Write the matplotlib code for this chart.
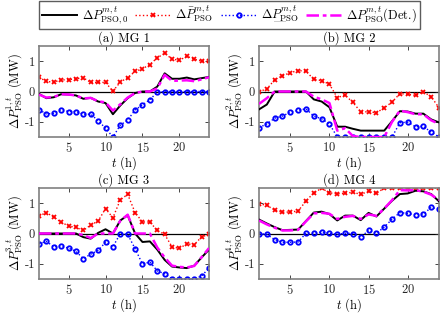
import matplotlib
matplotlib.use("Agg")
import matplotlib.pyplot as plt
import numpy as np
from matplotlib.lines import Line2D

plt.rcParams['font.family'] = 'serif'
plt.rcParams['font.serif'] = ['cmr10', 'DejaVu Serif']
plt.rcParams['mathtext.fontset'] = 'cm'
plt.rcParams['axes.formatter.use_mathtext'] = True
plt.rcParams['font.size'] = 8.5

hours = np.arange(1, 25)

# MG 1
mg1_base = [-0.08, -0.22, -0.19, -0.09, -0.10, -0.13, -0.24, -0.21, -0.33, -0.38, -0.75, -0.46,
            -0.22, -0.05, 0.0, 0.0, 0.16, 0.60, 0.42, 0.42, 0.46, 0.40, 0.44, 0.48]
mg1_up = [0.47, 0.33, 0.31, 0.38, 0.39, 0.42, 0.45, 0.30, 0.30, 0.30, 0.01, 0.31,
          0.46, 0.66, 0.75, 0.89, 1.11, 1.26, 1.07, 1.03, 1.16, 1.07, 1.00, 1.00]
mg1_low = [-0.60, -0.74, -0.72, -0.60, -0.66, -0.66, -0.75, -0.75, -0.96, -1.21, -1.50, -1.11,
           -0.94, -0.61, -0.44, -0.27, -0.02, 0.0, 0.0, 0.0, 0.0, 0.0, 0.0, 0.0]
mg1_det = [-0.10, -0.20, -0.18, -0.09, -0.10, -0.13, -0.23, -0.21, -0.32, -0.36, -0.63, -0.42,
           -0.20, -0.05, 0.0, 0.0, 0.10, 0.55, 0.35, 0.36, 0.37, 0.34, 0.40, 0.47]

# MG 2
mg2_base = [-0.59, -0.43, 0.0, 0.0, 0.0, 0.0, 0.0, -0.26, -0.33, -0.52, -1.16, -1.16,
            -1.23, -1.29, -1.29, -1.29, -1.29, -0.98, -0.65, -0.66, -0.73, -0.73, -0.92, -1.02]
mg2_up = [0.0, 0.08, 0.39, 0.52, 0.62, 0.69, 0.67, 0.40, 0.36, 0.24, -0.20, -0.12,
          -0.36, -0.67, -0.67, -0.70, -0.54, -0.35, -0.07, -0.09, -0.13, -0.01, -0.17, -0.54]
mg2_low = [-1.19, -1.07, -0.88, -0.81, -0.68, -0.62, -0.57, -0.81, -0.90, -1.07, -1.50, -1.50,
           -1.50, -1.50, -1.50, -1.50, -1.50, -1.50, -1.03, -1.01, -1.16, -1.15, -1.34, -1.50]
mg2_det = [-0.41, -0.22, 0.0, 0.0, 0.0, 0.0, 0.0, -0.17, -0.26, -0.38, -1.29, -1.21,
           -1.47, -1.50, -1.50, -1.50, -1.50, -1.00, -0.63, -0.68, -0.75, -0.75, -0.95, -1.07]

# MG 3
mg3_base = [0.0, 0.0, 0.0, 0.0, 0.0, 0.0, -0.12, -0.17, 0.02, 0.14, 0.0, 0.43,
            0.60, 0.0, -0.28, -0.26, -0.53, -0.87, -1.09, -1.12, -1.14, -1.06, -0.79, -0.53]
mg3_up = [0.58, 0.69, 0.54, 0.37, 0.25, 0.20, 0.10, 0.28, 0.41, 0.82, 0.52, 1.11,
          1.29, 0.69, 0.38, 0.38, 0.10, -0.03, -0.44, -0.49, -0.34, -0.37, -0.11, -0.03]
mg3_low = [-0.34, -0.26, -0.44, -0.42, -0.48, -0.59, -0.83, -0.68, -0.56, -0.29, -0.44, 0.0,
           -0.03, -0.50, -1.01, -0.94, -1.23, -1.33, -1.50, -1.50, -1.50, -1.50, -1.40, -1.14]
mg3_det = [0.0, 0.0, 0.0, 0.0, 0.0, 0.0, -0.05, -0.15, 0.0, 0.0, 0.0, 0.42,
           0.62, 0.0, 0.0, 0.0, -0.46, -0.79, -1.06, -1.10, -1.12, -1.07, -0.78, -0.48]

# MG 4
mg4_base = [0.46, 0.33, 0.21, 0.11, 0.12, 0.13, 0.41, 0.69, 0.72, 0.64, 0.43, 0.59,
            0.59, 0.44, 0.68, 0.56, 0.82, 1.08, 1.30, 1.32, 1.41, 1.39, 1.30, 1.06]
mg4_up = [0.98, 0.93, 0.77, 0.70, 0.71, 0.74, 1.07, 1.34, 1.49, 1.34, 1.31, 1.33,
          1.36, 1.29, 1.39, 1.32, 1.50, 1.50, 1.50, 1.50, 1.50, 1.50, 1.50, 1.50]
mg4_low = [0.0, -0.03, -0.20, -0.29, -0.29, -0.28, 0.01, 0.01, 0.05, 0.01, -0.03, 0.01,
           0.0, -0.12, 0.10, 0.01, 0.21, 0.47, 0.69, 0.66, 0.62, 0.64, 0.86, 0.80]
mg4_det = [0.43, 0.30, 0.19, 0.10, 0.10, 0.12, 0.40, 0.66, 0.68, 0.65, 0.48, 0.55,
           0.58, 0.48, 0.63, 0.58, 0.82, 1.10, 1.43, 1.42, 1.43, 1.38, 1.28, 1.10]

titles = ['(a) MG 1', '(b) MG 2', '(c) MG 3', '(d) MG 4']
series = [(mg1_base, mg1_up, mg1_low, mg1_det),
          (mg2_base, mg2_up, mg2_low, mg2_det),
          (mg3_base, mg3_up, mg3_low, mg3_det),
          (mg4_base, mg4_up, mg4_low, mg4_det)]

# the underline of the third label is drawn by hand below
labels = [r'$\Delta P^{m,t}_{\rm PSO,0}$', r'$\Delta \bar{P}^{m,t}_{\rm PSO}$',
          r'$\Delta P^{m,t}_{\rm PSO}$', r'$\Delta P^{m,t}_{\rm PSO}$(Det.)']

W, H = 443, 315
fig = plt.figure(figsize=(W / 100, H / 100), dpi=100)

# axes boxes in pixels: left, top, right, bottom
boxes = [(39, 46, 209, 137), (259, 46, 439, 137),
         (39, 188, 209, 279), (259, 188, 439, 279)]

handles = None
for i, (box, ttl, data) in enumerate(zip(boxes, titles, series)):
    l, t, r, b = box
    ax = fig.add_axes([l / W, 1 - b / H, (r - l) / W, (b - t) / H])
    base, up, low, det = data
    ax.axhline(0, color='k', lw=0.9, zorder=1)
    h1, = ax.plot(hours, base, color='k', lw=1.4, zorder=3)
    h2, = ax.plot(hours, up, color='red', ls=':', lw=1.0, marker='x', ms=3.5, mew=1.3, zorder=2)
    h3, = ax.plot(hours, low, color='blue', ls=':', lw=1.0, marker='o', ms=3.2, mew=1.3,
                  mfc='none', zorder=2)
    h4, = ax.plot(hours, det, color='magenta', ls=(0, (5, 1.5, 1.5, 1.5)), lw=1.8, zorder=4)
    handles = [h1, h2, h3, h4]
    ax.set_xlim(1, 24)
    ax.set_ylim(-1.5, 1.5)
    ax.set_xticks([5, 10, 15, 20])
    ax.set_yticks([-1, 0, 1])
    ax.set_yticklabels(['-1', '0', '1'])
    ax.tick_params(direction='in', top=True, right=True, length=3, width=0.6,
                   colors='0.15', labelsize=9, pad=3)
    for sp in ax.spines.values():
        sp.set_color('0.5')
        sp.set_linewidth(1.2)
    ax.set_title(ttl, fontsize=9, pad=3)
    ax.set_xlabel(r'$t$ (h)', fontsize=9, labelpad=-1)
    ax.set_ylabel(r'$\Delta P^{%d,t}_{\rm PSO}$ (MW)' % (i + 1), fontsize=9, labelpad=0)

leg = fig.legend(handles, labels, loc='center', ncol=4,
                 bbox_to_anchor=(229.5 / W, 1 - 15 / H), fontsize=9,
                 frameon=True, fancybox=False, handlelength=2.8, handletextpad=0.4,
                 columnspacing=0.6, borderpad=0.25)
leg.get_frame().set_edgecolor('0.2')
leg.get_frame().set_linewidth(1.0)

# underline under the P of the lower-bound label
fig.canvas.draw()
rend = fig.canvas.get_renderer()
txt = leg.get_texts()[2]
bb = txt.get_window_extent(rend)
prop = txt.get_fontproperties()
wd, _, _ = rend.get_text_width_height_descent(r'$\Delta$', prop, ismath=True)
wp, _, _ = rend.get_text_width_height_descent(r'$P$', prop, ismath=True)
_, _, desc = rend.get_text_width_height_descent(txt.get_text(), prop, ismath=True)
y_line = bb.y0 + desc - 1.5
x0 = bb.x0 + wd + 0.5
fig.add_artist(Line2D([x0 / W, (x0 + wp) / W], [y_line / H, y_line / H],
                      transform=fig.transFigure, color='k', lw=0.7))

fig.savefig('out.png', dpi=100)
